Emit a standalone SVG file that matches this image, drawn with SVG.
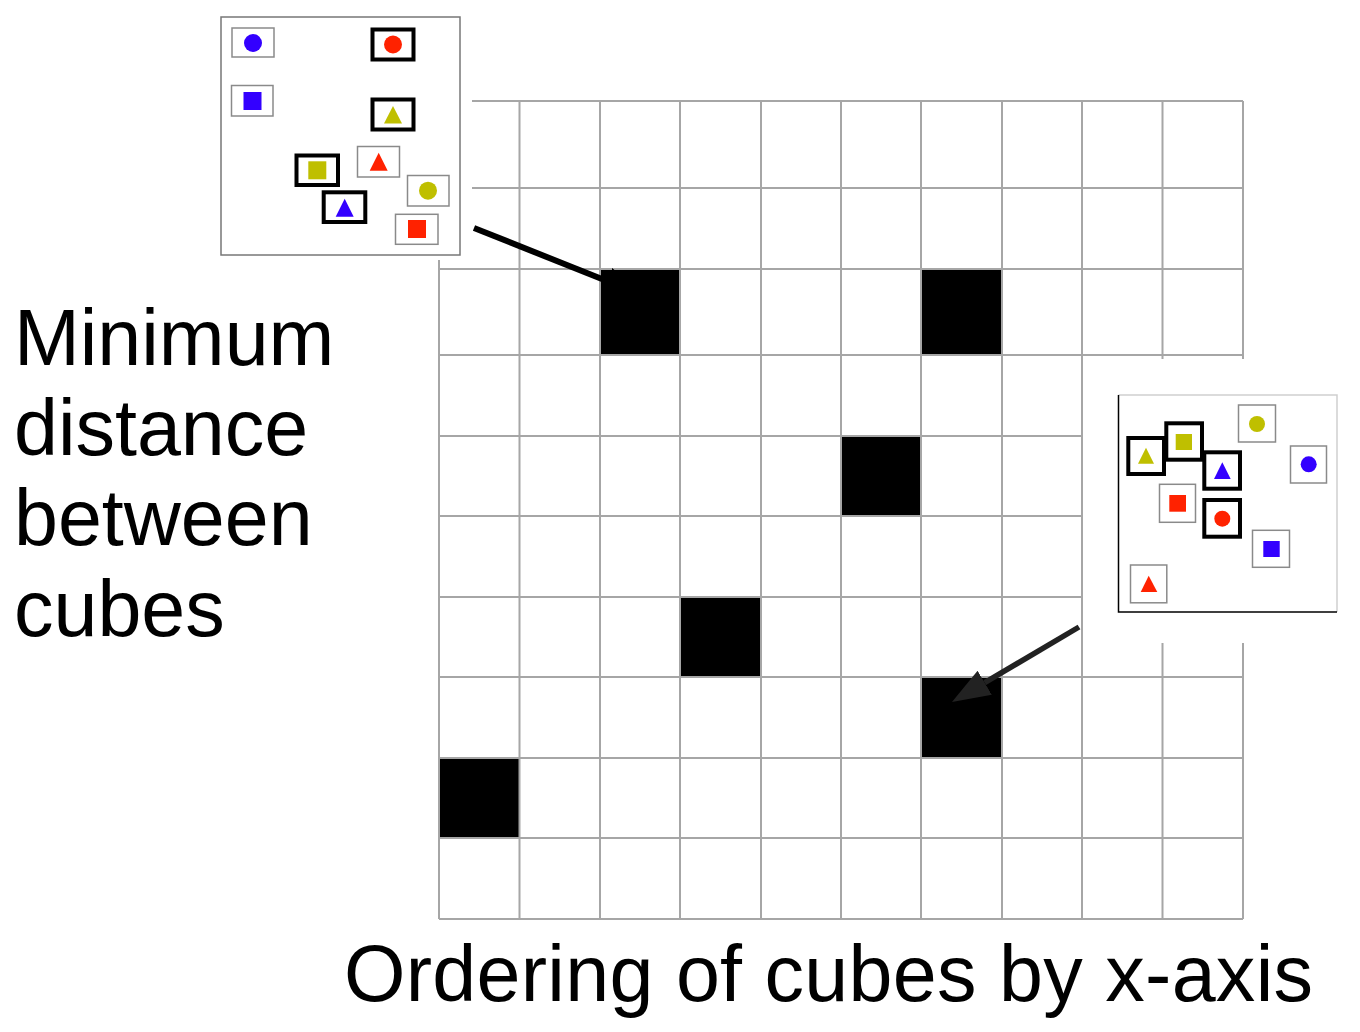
<svg xmlns="http://www.w3.org/2000/svg" width="1360" height="1032" viewBox="0 0 1360 1032">
<style>
.g{stroke:#a6a6a6;stroke-width:2;fill:none}
.cell{fill:#000}
.tb{fill:#fff;stroke:#8a8a8a;stroke-width:1.5}
.bb{fill:#fff;stroke:#000;stroke-width:4}
.blue{fill:#3300ff}
.red{fill:#ff2200}
.yel{fill:#bfbf00}
.lbl{font-family:"Liberation Sans",Arial,sans-serif;font-size:79px;fill:#000}
</style>
<defs>
<marker id="ah1" markerUnits="userSpaceOnUse" markerWidth="40" markerHeight="30" refX="0" refY="14" orient="auto" viewBox="0 0 40 30">
<path d="M0,0 L38,14 L0,28 z" fill="#000"/>
</marker>
<marker id="ah2" markerUnits="userSpaceOnUse" markerWidth="40" markerHeight="30" refX="0" refY="14" orient="auto" viewBox="0 0 40 30">
<path d="M0,0 L38,14 L0,28 z" fill="#222"/>
</marker>
</defs>
<rect width="1360" height="1032" fill="#fff"/>
<g id="cells">
<rect class="cell" x="600" y="269" width="80" height="86"/>
<rect class="cell" x="921" y="269" width="81" height="86"/>
<rect class="cell" x="841" y="436" width="80" height="80"/>
<rect class="cell" x="680" y="597" width="81" height="80"/>
<rect class="cell" x="921" y="677" width="81" height="81"/>
<rect class="cell" x="439" y="758" width="80" height="80"/>
</g>
<g id="grid" class="g">
<path d="M472,101H1243M472,188H1243M439,269H1243M439,355H1243M439,436H1082M439,516H1082M439,597H1082M439,677H1243M439,758H1243M439,838H1243M439,919H1243"/>
<path d="M439,260V919M519.5,101V919M600,101V919M680,101V919M761,101V919M841,101V919M921,101V919M1002,101V919M1082,101V919M1162.5,101V359M1162.5,643V919M1243,101V359M1243,643V919"/>
</g>
<g id="inset-top">
<rect x="221" y="17" width="239" height="238" fill="#fff" stroke="#777" stroke-width="1.5"/>
<g id="it-blue-circle"><rect class="tb" x="232" y="28" width="42" height="29"/><circle class="blue" cx="253" cy="43" r="9"/></g>
<g id="it-red-circle"><rect class="bb" x="372.5" y="29.5" width="41" height="30"/><circle class="red" cx="393" cy="44.5" r="9"/></g>
<g id="it-blue-square"><rect class="tb" x="231.5" y="85.5" width="41.5" height="30.5"/><rect class="blue" x="243.5" y="92" width="18" height="18"/></g>
<g id="it-yel-tri"><rect class="bb" x="372.5" y="99.5" width="41" height="30"/><polygon class="yel" points="393,106 402,123.5 384,123.5"/></g>
<g id="it-red-tri"><rect class="tb" x="357.5" y="146.5" width="42" height="30.5"/><polygon class="red" points="378.7,152.7 387.7,170.7 369.7,170.7"/></g>
<g id="it-yel-square"><rect class="bb" x="296.5" y="155.5" width="41.5" height="29.5"/><rect class="yel" x="308.3" y="161.3" width="18" height="18"/></g>
<g id="it-yel-circle"><rect class="tb" x="407.5" y="175.5" width="41.5" height="30.5"/><circle class="yel" cx="428" cy="190.7" r="9"/></g>
<g id="it-blue-tri"><rect class="bb" x="323.7" y="192.3" width="41.6" height="29.7"/><polygon class="blue" points="344.7,198.7 353.7,216.7 335.7,216.7"/></g>
<g id="it-red-square"><rect class="tb" x="395.5" y="214.3" width="42.5" height="30"/><rect class="red" x="408" y="220" width="18" height="18"/></g>
</g>
<g id="inset-right">
<rect x="1083" y="360" width="277" height="282" fill="#fff"/>
<path d="M1118.5,395H1337V612" fill="none" stroke="#cfcfcf" stroke-width="1.5"/>
<path d="M1118.5,395V612H1337" fill="none" stroke="#000" stroke-width="1.5"/>
<g id="ir-yel-circle"><rect class="tb" x="1238.5" y="405" width="37" height="37"/><circle class="yel" cx="1257" cy="424" r="8"/></g>
<g id="ir-blue-circle"><rect class="tb" x="1290.5" y="446" width="36" height="37"/><circle class="blue" cx="1308.7" cy="464.3" r="8"/></g>
<g id="ir-red-square"><rect class="tb" x="1159.5" y="484.3" width="36" height="38"/><rect class="red" x="1169.3" y="495" width="16.7" height="16.7"/></g>
<g id="ir-blue-square"><rect class="tb" x="1252.5" y="530.3" width="37" height="37"/><rect class="blue" x="1263.3" y="541" width="16.4" height="16"/></g>
<g id="ir-red-tri"><rect class="tb" x="1130.5" y="565" width="36.3" height="37.8"/><polygon class="red" points="1148.7,575.7 1157.3,592 1140.7,592"/></g>
<g id="ir-yel-tri"><rect class="bb" x="1128.3" y="438" width="35.7" height="36"/><polygon class="yel" points="1146,447.7 1154,463.7 1138,463.7"/></g>
<g id="ir-yel-square"><rect class="bb" x="1166.3" y="423.3" width="35.7" height="36.4"/><rect class="yel" x="1175.7" y="434" width="16.3" height="16"/></g>
<g id="ir-blue-tri"><rect class="bb" x="1204.3" y="452.3" width="35.7" height="36.4"/><polygon class="blue" points="1222.3,462.3 1230.7,479 1214,479"/></g>
<g id="ir-red-circle"><rect class="bb" x="1204.3" y="500" width="35.7" height="36.7"/><circle class="red" cx="1222.3" cy="518.7" r="8"/></g>
</g>
<g id="connectors">
<line x1="474" y1="228" x2="607" y2="281" stroke="#000" stroke-width="6" marker-end="url(#ah1)"/>
<line x1="1079" y1="627" x2="984.7" y2="682.7" stroke="#222" stroke-width="5.5" marker-end="url(#ah2)"/>
</g>
<g id="labels">
<text class="lbl" x="14" y="365">Minimum</text>
<text class="lbl" x="14" y="455">distance</text>
<text class="lbl" x="14" y="545">between</text>
<text class="lbl" x="14" y="636">cubes</text>
<text class="lbl" x="344" y="1001" textLength="969" lengthAdjust="spacing">Ordering of cubes by x-axis</text>
</g>
</svg>
